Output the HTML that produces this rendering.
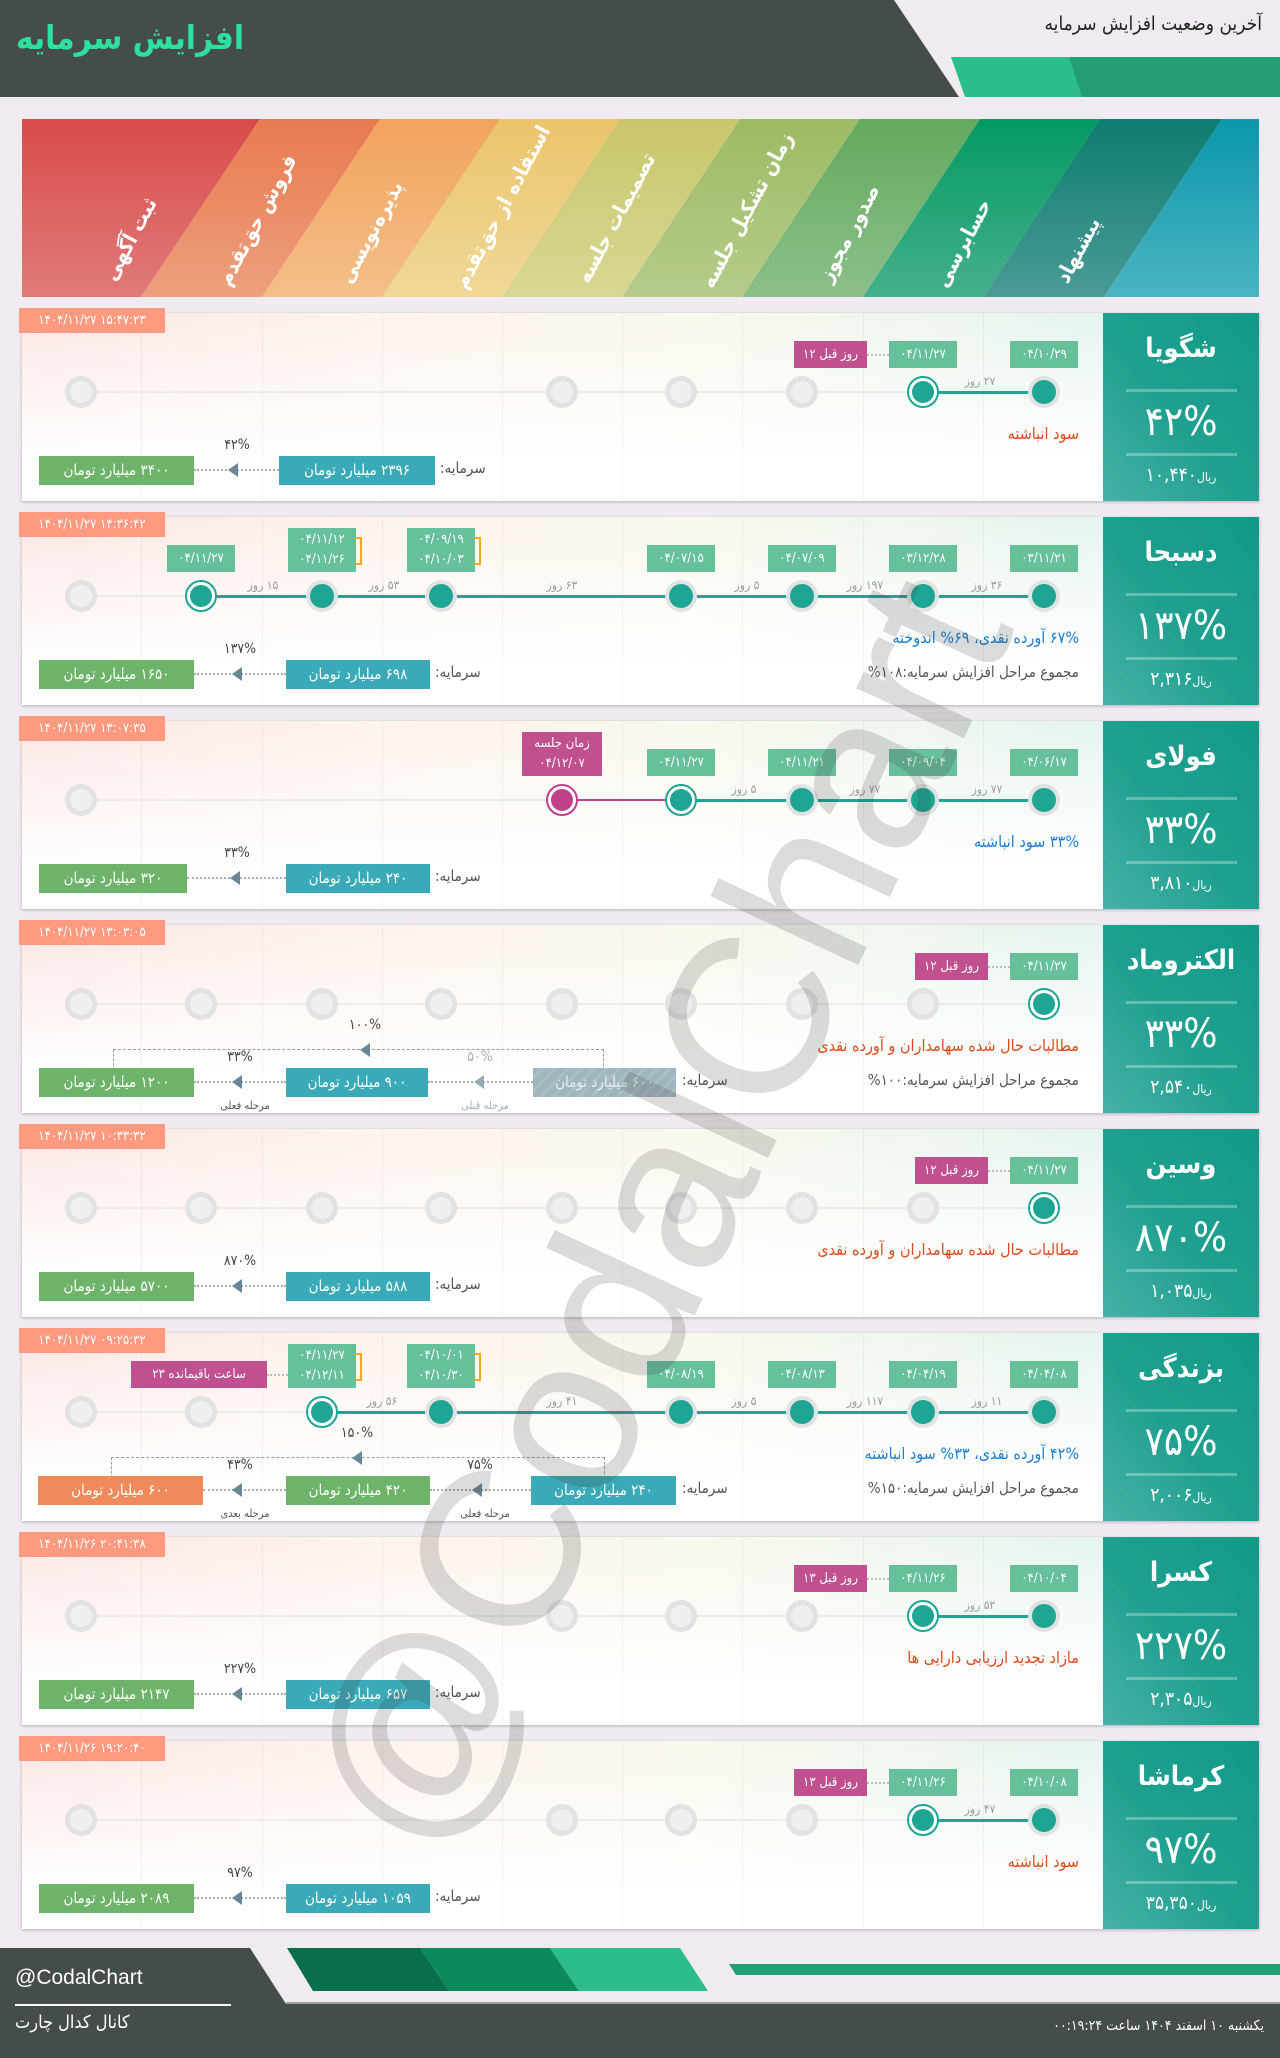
<!DOCTYPE html>
<html><head><meta charset="utf-8">
<style>
*{margin:0;padding:0;box-sizing:border-box}
body{width:1280px;height:2058px;position:relative;overflow:hidden;background:#efebf0;font-family:"DejaVu Sans Condensed","DejaVu Sans","Liberation Sans",sans-serif;}
.abs{position:absolute}
.card{position:absolute;left:22px;width:1237px;height:188px;background:linear-gradient(to bottom,rgba(255,255,255,0) 0,rgba(255,255,255,.7) 55%,#fff 80%),linear-gradient(to right,#fbe6e3,#fdf3ec 30%,#f8f8ec 55%,#e6f4ee 85%,#e2f1ef);box-shadow:0 1px 3px rgba(0,0,0,.25);}
.vl{position:absolute;top:0;height:188px;width:1px;background:rgba(0,0,0,.045)}
.side{position:absolute;right:0;top:0;width:156px;height:188px;background:linear-gradient(to top right,#46b1a8,#20a090 45%,#119a88);color:#fff;text-align:center}
.side .nm{position:absolute;left:0;right:0;top:16px;font-size:27px;font-weight:bold;line-height:40px}
.side .hl{position:absolute;left:23px;width:111px;height:3px;background:rgba(255,255,255,.3)}
.side .pc{position:absolute;left:0;right:0;top:86px;font-size:40px;line-height:46px}
.side .pr{position:absolute;left:0;right:0;top:148px;font-size:19px;line-height:28px}
.side .pr small{font-size:12px}
.ts{position:absolute;left:-3px;top:-5px;width:146px;height:25px;background:#ff9a80;color:#fff;font-size:13px;line-height:25px;text-align:center}
.gl{position:absolute;left:59px;width:963px;top:78px;height:2px;background:#ececec}
.c{position:absolute;top:79px;width:32px;height:32px;margin:-16px 0 0 -16px;border-radius:50%;background:#e2e2e2}
.c::after{content:"";position:absolute;left:5px;top:5px;width:22px;height:22px;border-radius:50%;background:#efefef}
.c.a::after{background:#1fa593;left:4px;top:4px;width:24px;height:24px}
.c.cur{background:#fff;border:2px solid #1fa593}
.c.cur::after{background:#1fa593;left:3px;top:3px;width:22px;height:22px}
.c.m{background:#fff;border:2px solid #c0418a}
.c.m::after{background:#c0418a;left:3px;top:3px;width:22px;height:22px}
.ln{position:absolute;top:78px;height:3px;background:#1fa593}
.t{position:absolute;top:28px;height:27px;width:68px;margin-left:-34px;background:#66c09a;color:#fff;font-size:13px;line-height:27px;text-align:center}
.t2{top:11px;height:44px;line-height:20px;padding-top:2px}
.t2::after{content:"";position:absolute;right:-6px;top:9px;width:5px;height:24px;border:2px solid #f5a623;border-left:none}
.mg{position:absolute;top:28px;height:27px;background:#c0508f;color:#fff;font-size:13px;line-height:27px;text-align:center}
.dc{position:absolute;top:41px;height:0;border-top:2px dotted #bbb}
.dy{position:absolute;top:61px;font-size:12px;color:#9a9a9a;width:60px;margin-left:-30px;text-align:center;direction:rtl}
.desc{position:absolute;right:180px;top:111px;font-size:16px;direction:rtl;white-space:nowrap}
.red{color:#e0491c}.blue{color:#1a7fd6}
.sum{position:absolute;right:180px;top:146px;font-size:15px;color:#555;direction:rtl;white-space:nowrap}
.bx{position:absolute;top:143px;height:29px;color:#fff;font-size:15px;line-height:29px;text-align:center;direction:rtl;white-space:nowrap}
.g{background:#6db36a}.tl{background:#3aa9b8}.or{background:#ef8a5a}.gr{background:repeating-linear-gradient(135deg,#9fb6be 0 6px,#a9bec6 6px 9px);color:#e8eef0}
.cap{position:absolute;top:146px;font-size:15px;color:#555;direction:rtl}
.arr{position:absolute;top:156px;height:0;border-top:2px dotted #9fb0ba}
.tri{position:absolute;top:150px;width:0;height:0;border-top:7px solid transparent;border-bottom:7px solid transparent;border-right:10px solid #6a8798}
.pl{position:absolute;top:124px;font-size:14px;color:#444;width:50px;text-align:center}
.sl{position:absolute;top:174px;font-size:11px;color:#555;width:70px;text-align:center;direction:rtl}
.br{position:absolute;height:26px;border:1px dashed #8aa0ad;border-bottom:none}
</style></head><body>

<svg class="abs" style="left:0;top:0" width="1280" height="97">
<polygon points="0,0 894,0 959,97 0,97" fill="#454d4a"/>
<polygon points="951,57 1280,57 1280,97 965,97" fill="#2dbd8a"/>
<polygon points="1069,57 1280,57 1280,97 1082,97" fill="#239e74"/>
</svg>
<div class="abs" style="left:16px;top:18px;font-size:33px;font-weight:bold;color:#2ee0a0;direction:rtl">افزایش سرمایه</div>
<div class="abs" style="right:18px;top:13px;font-size:19px;color:#222;direction:rtl">آخرین وضعیت افزایش سرمایه</div>

<svg class="abs" style="left:22px;top:119px" width="1237" height="178">
<defs>
<linearGradient id="g0" x1="0" y1="0" x2="0" y2="1"><stop offset="0" stop-color="#d84b4a"/><stop offset="1" stop-color="#e07b78"/></linearGradient>
<linearGradient id="g1" x1="0" y1="0" x2="0" y2="1"><stop offset="0" stop-color="#e8794f"/><stop offset="1" stop-color="#eda07e"/></linearGradient>
<linearGradient id="g2" x1="0" y1="0" x2="0" y2="1"><stop offset="0" stop-color="#f2a35c"/><stop offset="1" stop-color="#f4bf8a"/></linearGradient>
<linearGradient id="g3" x1="0" y1="0" x2="0" y2="1"><stop offset="0" stop-color="#ebc46a"/><stop offset="1" stop-color="#f0d898"/></linearGradient>
<linearGradient id="g4" x1="0" y1="0" x2="0" y2="1"><stop offset="0" stop-color="#c9c66a"/><stop offset="1" stop-color="#d8d895"/></linearGradient>
<linearGradient id="g5" x1="0" y1="0" x2="0" y2="1"><stop offset="0" stop-color="#9cbb63"/><stop offset="1" stop-color="#b6cb8b"/></linearGradient>
<linearGradient id="g6" x1="0" y1="0" x2="0" y2="1"><stop offset="0" stop-color="#62a95d"/><stop offset="1" stop-color="#8cc08a"/></linearGradient>
<linearGradient id="g7" x1="0" y1="0" x2="0" y2="1"><stop offset="0" stop-color="#049a62"/><stop offset="1" stop-color="#45b08b"/></linearGradient>
<linearGradient id="g8" x1="0" y1="0" x2="0" y2="1"><stop offset="0" stop-color="#0d7c72"/><stop offset="1" stop-color="#4a9c95"/></linearGradient>
<linearGradient id="g9" x1="0" y1="0" x2="0" y2="1"><stop offset="0" stop-color="#0a97aa"/><stop offset="1" stop-color="#4ab4c2"/></linearGradient>
</defs>
<polygon points="0,0 238,0 119,178 0,178" fill="url(#g0)"/>
<polygon points="238,0 358,0 240,178 119,178" fill="url(#g1)"/>
<polygon points="358,0 478,0 360,178 240,178" fill="url(#g2)"/>
<polygon points="478,0 598,0 480,178 360,178" fill="url(#g3)"/>
<polygon points="598,0 718,0 600,178 480,178" fill="url(#g4)"/>
<polygon points="718,0 838,0 720,178 600,178" fill="url(#g5)"/>
<polygon points="838,0 958,0 841,178 720,178" fill="url(#g6)"/>
<polygon points="958,0 1078,0 961,178 841,178" fill="url(#g7)"/>
<polygon points="1078,0 1200,0 1082,178 961,178" fill="url(#g8)"/>
<polygon points="1200,0 1237,0 1237,178 1082,178" fill="url(#g9)"/>
<g fill="#fff" font-size="21" font-weight="bold" font-family="DejaVu Sans Condensed, DejaVu Sans, sans-serif" text-anchor="middle" direction="rtl">
<text transform="translate(108,120) rotate(-62)" dy="7">ثبت آگهی</text>
<text transform="translate(235,101) rotate(-62)" dy="7">فروش حق‌تقدم</text>
<text transform="translate(349,113) rotate(-62)" dy="7">پذیره‌نویسی</text>
<text transform="translate(480,88) rotate(-62)" dy="7">استفاده از حق‌تقدم</text>
<text transform="translate(594,99) rotate(-62)" dy="7">تصمیمات جلسه</text>
<text transform="translate(725,91) rotate(-62)" dy="7">زمان تشکیل جلسه</text>
<text transform="translate(827,114) rotate(-62)" dy="7">صدور مجوز</text>
<text transform="translate(941,124) rotate(-62)" dy="7">حسابرسی</text>
<text transform="translate(1056,131) rotate(-62)" dy="7">پیشنهاد</text>
</g>
</svg>

<!-- CARD 1 -->
<div class="card" style="top:313px">
<div class="vl" style="left:119px"></div><div class="vl" style="left:240px"></div><div class="vl" style="left:360px"></div><div class="vl" style="left:480px"></div><div class="vl" style="left:600px"></div><div class="vl" style="left:720px"></div><div class="vl" style="left:841px"></div><div class="vl" style="left:961px"></div>
<div class="ts">۱۴۰۴/۱۱/۲۷ ۱۵:۴۷:۲۳</div>
<div class="gl"></div>
<div class="ln" style="left:901px;width:121px"></div>
<div class="c" style="left:59px"></div><div class="c" style="left:540px"></div><div class="c" style="left:659px"></div><div class="c" style="left:780px"></div>
<div class="c cur" style="left:901px"></div><div class="c a" style="left:1022px"></div>
<div class="dy" style="left:958px">۲۷ روز</div>
<div class="t" style="left:1022px">۰۴/۱۰/۲۹</div><div class="t" style="left:901px">۰۴/۱۱/۲۷</div>
<div class="dc" style="left:845px;width:22px"></div>
<div class="mg" style="left:772px;width:73px">۱۲ روز قبل</div>
<div class="desc red">سود انباشته</div>
<div class="bx g" style="left:17px;width:155px">۳۴۰۰ میلیارد تومان</div>
<div class="arr" style="left:172px;width:85px"></div><div class="tri" style="left:206px"></div>
<div class="pl" style="left:190px">۴۲%</div>
<div class="bx tl" style="left:257px;width:156px">۲۳۹۶ میلیارد تومان</div>
<div class="cap" style="left:418px">سرمایه:</div>
<div class="side"><div class="nm">شگویا</div><div class="hl" style="top:76px"></div><div class="pc">۴۲%</div><div class="hl" style="top:140px"></div><div class="pr"><small>ریال</small>۱۰,۴۴۰</div></div>
</div>

<!-- CARD 2 -->
<div class="card" style="top:517px">
<div class="vl" style="left:119px"></div><div class="vl" style="left:240px"></div><div class="vl" style="left:360px"></div><div class="vl" style="left:480px"></div><div class="vl" style="left:600px"></div><div class="vl" style="left:720px"></div><div class="vl" style="left:841px"></div><div class="vl" style="left:961px"></div>
<div class="ts">۱۴۰۴/۱۱/۲۷ ۱۴:۳۶:۴۲</div>
<div class="gl"></div>
<div class="ln" style="left:179px;width:843px"></div>
<div class="c" style="left:59px"></div>
<div class="c cur" style="left:179px"></div><div class="c a" style="left:300px"></div><div class="c a" style="left:419px"></div><div class="c a" style="left:659px"></div><div class="c a" style="left:780px"></div><div class="c a" style="left:901px"></div><div class="c a" style="left:1022px"></div>
<div class="dy" style="left:965px">۳۶ روز</div><div class="dy" style="left:843px">۱۹۷ روز</div><div class="dy" style="left:725px">۵ روز</div><div class="dy" style="left:540px">۶۳ روز</div><div class="dy" style="left:362px">۵۳ روز</div><div class="dy" style="left:241px">۱۵ روز</div>
<div class="t" style="left:1022px">۰۳/۱۱/۲۱</div><div class="t" style="left:901px">۰۳/۱۲/۲۸</div><div class="t" style="left:780px">۰۴/۰۷/۰۹</div><div class="t" style="left:659px">۰۴/۰۷/۱۵</div>
<div class="t t2" style="left:419px">۰۴/۰۹/۱۹<br>۰۴/۱۰/۰۳</div><div class="t t2" style="left:300px">۰۴/۱۱/۱۲<br>۰۴/۱۱/۲۶</div>
<div class="t" style="left:179px">۰۴/۱۱/۲۷</div>
<div class="desc blue">۶۷% آورده نقدی، ۶۹% اندوخته</div>
<div class="sum">مجموع مراحل افزایش سرمایه:۱۰۸%</div>
<div class="bx g" style="left:17px;width:155px">۱۶۵۰ میلیارد تومان</div>
<div class="arr" style="left:172px;width:92px"></div><div class="tri" style="left:210px"></div>
<div class="pl" style="left:193px">۱۳۷%</div>
<div class="bx tl" style="left:264px;width:144px">۶۹۸ میلیارد تومان</div>
<div class="cap" style="left:413px">سرمایه:</div>
<div class="side"><div class="nm">دسبحا</div><div class="hl" style="top:76px"></div><div class="pc">۱۳۷%</div><div class="hl" style="top:140px"></div><div class="pr"><small>ریال</small>۲,۳۱۶</div></div>
</div>

<!-- CARD 3 -->
<div class="card" style="top:721px">
<div class="vl" style="left:119px"></div><div class="vl" style="left:240px"></div><div class="vl" style="left:360px"></div><div class="vl" style="left:480px"></div><div class="vl" style="left:600px"></div><div class="vl" style="left:720px"></div><div class="vl" style="left:841px"></div><div class="vl" style="left:961px"></div>
<div class="ts">۱۴۰۴/۱۱/۲۷ ۱۳:۰۷:۳۵</div>
<div class="gl"></div>
<div class="ln" style="left:659px;width:363px"></div>
<div class="ln" style="left:540px;width:119px;background:#c0418a;height:2px"></div>
<div class="c" style="left:59px"></div>
<div class="c m" style="left:540px"></div><div class="c cur" style="left:659px"></div><div class="c a" style="left:780px"></div><div class="c a" style="left:901px"></div><div class="c a" style="left:1022px"></div>
<div class="dy" style="left:965px">۷۷ روز</div><div class="dy" style="left:843px">۷۷ روز</div><div class="dy" style="left:722px">۵ روز</div>
<div class="t" style="left:1022px">۰۴/۰۶/۱۷</div><div class="t" style="left:901px">۰۴/۰۹/۰۴</div><div class="t" style="left:780px">۰۴/۱۱/۲۱</div><div class="t" style="left:659px">۰۴/۱۱/۲۷</div>
<div class="mg" style="left:500px;width:80px;top:11px;height:44px;line-height:20px;padding-top:2px">زمان جلسه<br>۰۴/۱۲/۰۷</div>
<div class="desc blue">۳۳% سود انباشته</div>
<div class="bx g" style="left:17px;width:148px">۳۲۰ میلیارد تومان</div>
<div class="arr" style="left:165px;width:99px"></div><div class="tri" style="left:208px"></div>
<div class="pl" style="left:190px">۳۳%</div>
<div class="bx tl" style="left:264px;width:144px">۲۴۰ میلیارد تومان</div>
<div class="cap" style="left:413px">سرمایه:</div>
<div class="side"><div class="nm">فولای</div><div class="hl" style="top:76px"></div><div class="pc">۳۳%</div><div class="hl" style="top:140px"></div><div class="pr"><small>ریال</small>۳,۸۱۰</div></div>
</div>

<!-- CARD 4 -->
<div class="card" style="top:925px">
<div class="vl" style="left:119px"></div><div class="vl" style="left:240px"></div><div class="vl" style="left:360px"></div><div class="vl" style="left:480px"></div><div class="vl" style="left:600px"></div><div class="vl" style="left:720px"></div><div class="vl" style="left:841px"></div><div class="vl" style="left:961px"></div>
<div class="ts">۱۴۰۴/۱۱/۲۷ ۱۳:۰۳:۰۵</div>
<div class="gl"></div>
<div class="c" style="left:59px"></div><div class="c" style="left:179px"></div><div class="c" style="left:300px"></div><div class="c" style="left:419px"></div><div class="c" style="left:540px"></div><div class="c" style="left:659px"></div><div class="c" style="left:780px"></div><div class="c" style="left:901px"></div>
<div class="c cur" style="left:1022px"></div>
<div class="t" style="left:1022px">۰۴/۱۱/۲۷</div>
<div class="dc" style="left:966px;width:22px"></div>
<div class="mg" style="left:893px;width:73px">۱۲ روز قبل</div>
<div class="desc red">مطالبات حال شده سهامداران و آورده نقدی</div>
<div class="sum">مجموع مراحل افزایش سرمایه:۱۰۰%</div>
<div class="br" style="left:91px;width:491px;top:124px"></div>
<div class="tri" style="left:338px;top:118px"></div>
<div class="pl" style="left:318px;top:92px">۱۰۰%</div>
<div class="bx g" style="left:17px;width:155px">۱۲۰۰ میلیارد تومان</div>
<div class="arr" style="left:172px;width:92px"></div><div class="tri" style="left:210px"></div>
<div class="pl" style="left:193px">۳۳%</div>
<div class="sl" style="left:188px">مرحله فعلی</div>
<div class="bx tl" style="left:264px;width:142px">۹۰۰ میلیارد تومان</div>
<div class="arr" style="left:406px;width:105px"></div><div class="tri" style="left:452px;border-right-color:#97aab4"></div>
<div class="pl" style="left:433px;color:#9fb0ba">۵۰%</div>
<div class="sl" style="left:428px;color:#9fb0ba">مرحله قبلی</div>
<div class="bx gr" style="left:511px;width:143px">۶۰۰ میلیارد تومان</div>
<div class="cap" style="left:660px">سرمایه:</div>
<div class="side"><div class="nm">الکتروماد</div><div class="hl" style="top:76px"></div><div class="pc">۳۳%</div><div class="hl" style="top:140px"></div><div class="pr"><small>ریال</small>۲,۵۴۰</div></div>
</div>

<!-- CARD 5 -->
<div class="card" style="top:1129px">
<div class="vl" style="left:119px"></div><div class="vl" style="left:240px"></div><div class="vl" style="left:360px"></div><div class="vl" style="left:480px"></div><div class="vl" style="left:600px"></div><div class="vl" style="left:720px"></div><div class="vl" style="left:841px"></div><div class="vl" style="left:961px"></div>
<div class="ts">۱۴۰۴/۱۱/۲۷ ۱۰:۳۳:۳۲</div>
<div class="gl"></div>
<div class="c" style="left:59px"></div><div class="c" style="left:179px"></div><div class="c" style="left:300px"></div><div class="c" style="left:419px"></div><div class="c" style="left:540px"></div><div class="c" style="left:659px"></div><div class="c" style="left:780px"></div><div class="c" style="left:901px"></div>
<div class="c cur" style="left:1022px"></div>
<div class="t" style="left:1022px">۰۴/۱۱/۲۷</div>
<div class="dc" style="left:966px;width:22px"></div>
<div class="mg" style="left:893px;width:73px">۱۲ روز قبل</div>
<div class="desc red">مطالبات حال شده سهامداران و آورده نقدی</div>
<div class="bx g" style="left:17px;width:155px">۵۷۰۰ میلیارد تومان</div>
<div class="arr" style="left:172px;width:92px"></div><div class="tri" style="left:210px"></div>
<div class="pl" style="left:193px">۸۷۰%</div>
<div class="bx tl" style="left:264px;width:144px">۵۸۸ میلیارد تومان</div>
<div class="cap" style="left:413px">سرمایه:</div>
<div class="side"><div class="nm">وسین</div><div class="hl" style="top:76px"></div><div class="pc">۸۷۰%</div><div class="hl" style="top:140px"></div><div class="pr"><small>ریال</small>۱,۰۳۵</div></div>
</div>

<!-- CARD 6 -->
<div class="card" style="top:1333px">
<div class="vl" style="left:119px"></div><div class="vl" style="left:240px"></div><div class="vl" style="left:360px"></div><div class="vl" style="left:480px"></div><div class="vl" style="left:600px"></div><div class="vl" style="left:720px"></div><div class="vl" style="left:841px"></div><div class="vl" style="left:961px"></div>
<div class="ts">۱۴۰۴/۱۱/۲۷ ۰۹:۲۵:۳۲</div>
<div class="gl"></div>
<div class="ln" style="left:300px;width:722px"></div>
<div class="c" style="left:59px"></div><div class="c" style="left:179px"></div>
<div class="c cur" style="left:300px"></div><div class="c a" style="left:419px"></div><div class="c a" style="left:659px"></div><div class="c a" style="left:780px"></div><div class="c a" style="left:901px"></div><div class="c a" style="left:1022px"></div>
<div class="dy" style="left:965px">۱۱ روز</div><div class="dy" style="left:843px">۱۱۷ روز</div><div class="dy" style="left:722px">۵ روز</div><div class="dy" style="left:540px">۴۱ روز</div><div class="dy" style="left:360px">۵۶ روز</div>
<div class="t" style="left:1022px">۰۴/۰۴/۰۸</div><div class="t" style="left:901px">۰۴/۰۴/۱۹</div><div class="t" style="left:780px">۰۴/۰۸/۱۳</div><div class="t" style="left:659px">۰۴/۰۸/۱۹</div>
<div class="t t2" style="left:419px">۰۴/۱۰/۰۱<br>۰۴/۱۰/۳۰</div><div class="t t2" style="left:300px">۰۴/۱۱/۲۷<br>۰۴/۱۲/۱۱</div>
<div class="dc" style="left:245px;width:21px"></div>
<div class="mg" style="left:109px;width:136px">۲۳ ساعت باقیمانده</div>
<div class="desc blue">۴۲% آورده نقدی، ۳۳% سود انباشته</div>
<div class="sum">مجموع مراحل افزایش سرمایه:۱۵۰%</div>
<div class="br" style="left:89px;width:494px;top:124px"></div>
<div class="tri" style="left:330px;top:118px"></div>
<div class="pl" style="left:310px;top:92px">۱۵۰%</div>
<div class="bx or" style="left:16px;width:165px">۶۰۰ میلیارد تومان</div>
<div class="arr" style="left:181px;width:83px"></div><div class="tri" style="left:210px"></div>
<div class="pl" style="left:193px">۴۳%</div>
<div class="sl" style="left:188px">مرحله بعدی</div>
<div class="bx g" style="left:264px;width:144px">۴۲۰ میلیارد تومان</div>
<div class="arr" style="left:408px;width:101px"></div><div class="tri" style="left:450px"></div>
<div class="pl" style="left:433px">۷۵%</div>
<div class="sl" style="left:428px">مرحله فعلی</div>
<div class="bx tl" style="left:509px;width:145px">۲۴۰ میلیارد تومان</div>
<div class="cap" style="left:660px">سرمایه:</div>
<div class="side"><div class="nm">بزندگی</div><div class="hl" style="top:76px"></div><div class="pc">۷۵%</div><div class="hl" style="top:140px"></div><div class="pr"><small>ریال</small>۲,۰۰۶</div></div>
</div>

<!-- CARD 7 -->
<div class="card" style="top:1537px">
<div class="vl" style="left:119px"></div><div class="vl" style="left:240px"></div><div class="vl" style="left:360px"></div><div class="vl" style="left:480px"></div><div class="vl" style="left:600px"></div><div class="vl" style="left:720px"></div><div class="vl" style="left:841px"></div><div class="vl" style="left:961px"></div>
<div class="ts">۱۴۰۴/۱۱/۲۶ ۲۰:۴۱:۳۸</div>
<div class="gl"></div>
<div class="ln" style="left:901px;width:121px"></div>
<div class="c" style="left:59px"></div><div class="c" style="left:540px"></div><div class="c" style="left:659px"></div><div class="c" style="left:780px"></div>
<div class="c cur" style="left:901px"></div><div class="c a" style="left:1022px"></div>
<div class="dy" style="left:958px">۵۲ روز</div>
<div class="t" style="left:1022px">۰۴/۱۰/۰۴</div><div class="t" style="left:901px">۰۴/۱۱/۲۶</div>
<div class="dc" style="left:845px;width:22px"></div>
<div class="mg" style="left:772px;width:73px">۱۳ روز قبل</div>
<div class="desc red">مازاد تجدید ارزیابی دارایی ها</div>
<div class="bx g" style="left:17px;width:155px">۲۱۴۷ میلیارد تومان</div>
<div class="arr" style="left:172px;width:92px"></div><div class="tri" style="left:210px"></div>
<div class="pl" style="left:193px">۲۲۷%</div>
<div class="bx tl" style="left:264px;width:144px">۶۵۷ میلیارد تومان</div>
<div class="cap" style="left:413px">سرمایه:</div>
<div class="side"><div class="nm">کسرا</div><div class="hl" style="top:76px"></div><div class="pc">۲۲۷%</div><div class="hl" style="top:140px"></div><div class="pr"><small>ریال</small>۲,۳۰۵</div></div>
</div>

<!-- CARD 8 -->
<div class="card" style="top:1741px">
<div class="vl" style="left:119px"></div><div class="vl" style="left:240px"></div><div class="vl" style="left:360px"></div><div class="vl" style="left:480px"></div><div class="vl" style="left:600px"></div><div class="vl" style="left:720px"></div><div class="vl" style="left:841px"></div><div class="vl" style="left:961px"></div>
<div class="ts">۱۴۰۴/۱۱/۲۶ ۱۹:۲۰:۴۰</div>
<div class="gl"></div>
<div class="ln" style="left:901px;width:121px"></div>
<div class="c" style="left:59px"></div><div class="c" style="left:540px"></div><div class="c" style="left:659px"></div><div class="c" style="left:780px"></div>
<div class="c cur" style="left:901px"></div><div class="c a" style="left:1022px"></div>
<div class="dy" style="left:958px">۴۷ روز</div>
<div class="t" style="left:1022px">۰۴/۱۰/۰۸</div><div class="t" style="left:901px">۰۴/۱۱/۲۶</div>
<div class="dc" style="left:845px;width:22px"></div>
<div class="mg" style="left:772px;width:73px">۱۳ روز قبل</div>
<div class="desc red">سود انباشته</div>
<div class="bx g" style="left:17px;width:155px">۲۰۸۹ میلیارد تومان</div>
<div class="arr" style="left:172px;width:92px"></div><div class="tri" style="left:210px"></div>
<div class="pl" style="left:193px">۹۷%</div>
<div class="bx tl" style="left:264px;width:144px">۱۰۵۹ میلیارد تومان</div>
<div class="cap" style="left:413px">سرمایه:</div>
<div class="side"><div class="nm">کرماشا</div><div class="hl" style="top:76px"></div><div class="pc">۹۷%</div><div class="hl" style="top:140px"></div><div class="pr"><small>ریال</small>۳۵,۳۵۰</div></div>
</div>

<div class="abs" style="left:656px;top:1214px;width:0;height:0">
<div style="position:absolute;left:-800px;top:-130px;width:1600px;text-align:center;font-family:'Liberation Sans',sans-serif;font-size:225px;line-height:260px;color:rgba(60,60,60,.18);transform:rotate(-65deg);white-space:nowrap">@CodalChart</div>
</div>

<svg class="abs" style="left:0;top:1948px" width="1280" height="110">
<polygon points="0,0 250,0 286,56 1280,56 1280,110 0,110" fill="#454d4a"/>
<rect x="286" y="54" width="994" height="2" fill="#9aa09d"/>
<polygon points="287,0 420,0 449,43 313,43" fill="#086e4c"/>
<polygon points="420,0 550,0 579,43 449,43" fill="#0d8a5c"/>
<polygon points="550,0 680,0 708,43 579,43" fill="#2dbd8a"/>
<polygon points="729,16 1280,16 1280,27 736,27" fill="#239e74"/>
</svg>
<div class="abs" style="left:15px;top:1966px;font-family:'Liberation Sans',sans-serif;font-size:21px;color:#fff">@CodalChart</div>
<div class="abs" style="left:15px;top:2004px;width:216px;height:2px;background:#fff"></div>
<div class="abs" style="left:15px;top:2012px;font-size:18px;color:#fff;direction:rtl">کانال کدال چارت</div>
<div class="abs" style="right:16px;top:2018px;font-size:14px;color:#fff;direction:rtl">یکشنبه ۱۰ اسفند ۱۴۰۴ ساعت ۰۰:۱۹:۲۴</div>
</body></html>
